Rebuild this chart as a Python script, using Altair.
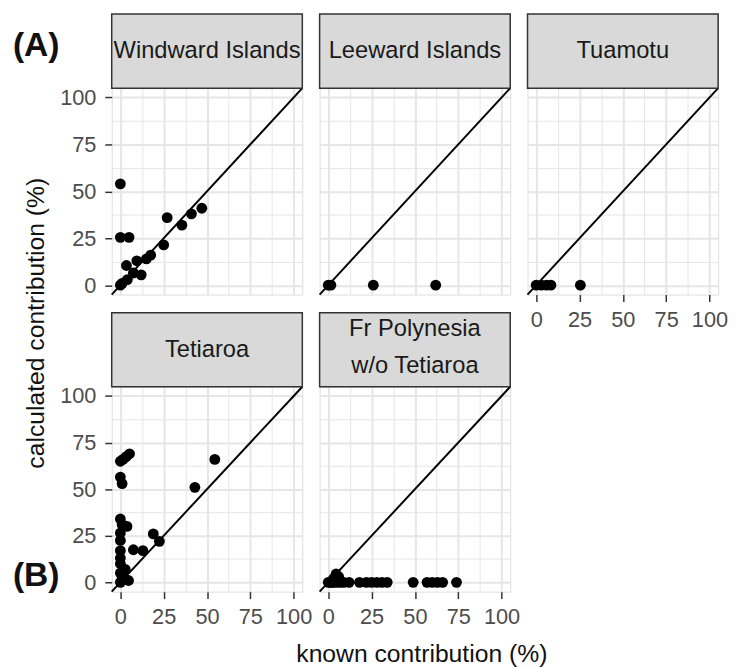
import altair as alt
import pandas as pd

FONT = "Liberation Sans"

# ---------------- data ----------------
strip_labels = ["Windward Islands", "Leeward Islands", "Tuamotu", "Tetiaroa",
                "Fr Polynesia\nw/o Tetiaroa"]

windward_known = [0, 0, 5, 27, 35.5, 41, 47, 25, 15, 17.5, 9.5, 3.5, 12, 7.5, 4, 1, 0]
windward_calc = [54, 25.5, 25.5, 36, 32, 38, 41, 21.5, 14, 16, 13, 10.5, 5.5, 6.5, 3, 1, 0]

leeward_known = [0, 1.5, 26, 62]
leeward_calc = [0, 0, 0, 0]

tuamotu_known = [0, 3, 6, 8.5, 25.5]
tuamotu_calc = [0, 0, 0, 0, 0]

tetiaroa_known = [5.3, 3.4, 1.5, 0, 0, 1, 54.5, 43, 0, 3.8, 1, 0, 0, 19, 22.5, 0, 7.5,
                  13, 0, 0, 2.8, 0, 4.7, 1, 0]
tetiaroa_calc = [69, 67.5, 66, 65, 56.5, 53, 66, 51, 34, 30, 31, 26.5, 22.5, 26, 22, 17,
                 17.5, 17, 13, 10, 7, 5, 1, 3, 0]

frpoly_known = [0, 1, 2, 3, 5, 7, 9, 12, 18, 22, 25, 28, 31, 34, 49, 57, 60, 63, 66, 74,
                4.5, 3, 6]
frpoly_calc = [0] * 20 + [4.5, 2, 3]

axis_breaks = [0, 12.5, 25, 37.5, 50, 62.5, 75, 87.5, 100]
domain = [-5, 105]
identity_line = [-5, 105]

panel_tags = ["(A)", "(B)"]
x_title = "known contribution (%)"
y_title = "calculated contribution (%)"

# ---------------- style helpers ----------------
W = 193
STRIP_H = 75
LINE_H = 38
major_test = "datum.value % 25 === 0"


def make_axis(show, orient):
    common = dict(
        values=axis_breaks,
        orient=orient,
        grid=True,
        gridColor="#e6e6e6",
        gridWidth={"condition": {"test": major_test, "value": 2}, "value": 1},
        domain=False,
        title=None,
    )
    if show:
        return alt.Axis(
            labels=True,
            ticks=True,
            labelExpr="datum.value % 25 === 0 ? datum.label : ''",
            tickOpacity={"condition": {"test": major_test, "value": 1}, "value": 0},
            tickColor="#333333",
            tickWidth=1.5,
            tickSize=7,
            labelFontSize=22,
            labelFont=FONT,
            labelColor="#4d4d4d",
            labelPadding=9 if orient == "left" else 8,
            labelOverlap=False,
            labelFlush=False,
            format="d",
            **common,
        )
    return alt.Axis(labels=False, ticks=False, **common)


def make_panel(known, calc, label, height, show_x, show_y, extras=()):
    xs = alt.Scale(domain=domain, nice=False, zero=False)
    ys = alt.Scale(domain=domain, nice=False, zero=False)
    xa = make_axis(show_x, "bottom")
    ya = make_axis(show_y, "left")

    df = pd.DataFrame({"known": known, "calc": calc})
    line_df = pd.DataFrame({"known": identity_line, "calc": identity_line})
    lab_df = pd.DataFrame({"label": [label]})
    n_lines = label.count("\n") + 1

    pts = alt.Chart(df).mark_circle(size=120, color="black", opacity=1).encode(
        x=alt.X("known:Q", scale=xs, axis=xa),
        y=alt.Y("calc:Q", scale=ys, axis=ya),
    )
    line = alt.Chart(line_df).mark_line(color="black", strokeWidth=2).encode(
        x=alt.X("known:Q", scale=xs, axis=xa),
        y=alt.Y("calc:Q", scale=ys, axis=ya),
    )
    strip = alt.Chart(lab_df).mark_rect(
        fill="#d9d9d9", stroke="#333333", strokeWidth=1.5
    ).encode(
        x=alt.value(0), x2=alt.value(W), y=alt.value(-STRIP_H), y2=alt.value(0)
    )
    strip_text = alt.Chart(lab_df).mark_text(
        fontSize=24, font=FONT, color="#1a1a1a", lineBreak="\n", lineHeight=LINE_H,
        align="center", baseline="middle"
    ).encode(
        text="label:N", x=alt.value(W / 2),
        y=alt.value(-STRIP_H / 2 - (n_lines - 1) * (LINE_H / 2 + 2))
    )
    layers = [line, pts, strip, strip_text] + list(extras)
    return alt.layer(*layers).properties(width=W, height=height)


def tag(text, x, y):
    return alt.Chart(pd.DataFrame({"t": [text]})).mark_text(
        fontSize=34, fontWeight="bold", font=FONT, color="#111111",
        align="left", baseline="middle"
    ).encode(text="t:N", x=alt.value(x), y=alt.value(y))


ytitle = alt.Chart(pd.DataFrame({"t": [y_title]})).mark_text(
    fontSize=25, font=FONT, color="#111111", angle=270,
    align="center", baseline="middle"
).encode(text="t:N", x=alt.value(-77), y=alt.value(238))

xtitle = alt.Chart(pd.DataFrame({"t": [x_title]})).mark_text(
    fontSize=25, font=FONT, color="#111111",
    align="center", baseline="alphabetic"
).encode(text="t:N", x=alt.value(W / 2 + 7), y=alt.value(279))

H1 = 209
H2 = 207.5

p1 = make_panel(windward_known, windward_calc, strip_labels[0], H1, False, True,
                [tag(panel_tags[0], -100, -43), ytitle])
p2 = make_panel(leeward_known, leeward_calc, strip_labels[1], H1, False, False)
p3 = make_panel(tuamotu_known, tuamotu_calc, strip_labels[2], H1, True, False)
p4 = make_panel(tetiaroa_known, tetiaroa_calc, strip_labels[3], H2, True, True,
                [tag(panel_tags[1], -100, 192)])
p5 = make_panel(frpoly_known, frpoly_calc, strip_labels[4], H2, True, False, [xtitle])

chart = alt.concat(
    p1, p2, p3, p4, p5, columns=3,
    spacing={"row": 93.3, "column": 17.5}, bounds="flush"
).properties(
    padding={"left": 4, "top": 0, "right": 0, "bottom": 0}
).configure_view(
    stroke="#333333", strokeWidth=1.5
).configure(font=FONT, background="white")

chart.save("out.html", embed_options={"renderer": "svg", "actions": False})
